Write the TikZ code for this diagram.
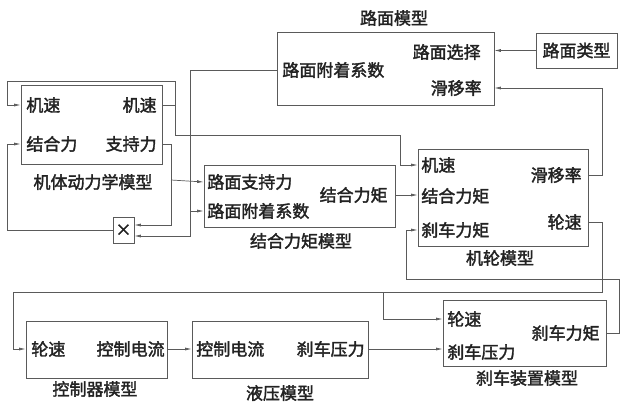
\documentclass[tikz,border=0pt]{standalone}
\usepackage{fontspec}
\setmainfont{Noto Sans CJK SC}[FakeBold=2]
\usepackage{xcolor}
\usepackage{tikz}
\usetikzlibrary{arrows.meta,positioning}
\definecolor{ln}{HTML}{5A5A5A}
\definecolor{tx}{HTML}{222222}

\begin{document}
\begin{tikzpicture}[x=1pt,y=-1pt,
                    line width=0.7pt,
                    >={Latex[length=6.5pt,width=3pt]},
                    blk/.style n args={2}{draw=ln,rectangle,
                    minimum width=#1pt,
                    minimum height=#2pt,
                    inner sep=0pt},
                    lbl/.style={text=tx,inner sep=0pt,
                    font=\fontsize{17}{20}\selectfont},
                    pl/.style={lbl,anchor=west},
                    pr/.style={lbl,anchor=east},
                    wire/.style={draw=ln,->}]
    \useasboundingbox (0,0) rectangle (621,402);

    \node[blk={141}{79}] (body) at (91.5,124.5) {};
    \node[lbl] (bodyt) at (93,182) {机体动力学模型};
    \node[pl] (bspdi) at (26,105) {机速};
    \node[pr] (bspdo) at (157,105) {机速};
    \node[pl] (bfrc) at (26,144) {结合力};
    \node[pr] (bsup) at (157,144) {支持力};
    \node[blk={21}{26},text=tx] (mul) at (123.5,230) {\fontsize{16}{16}\selectfont ×};

    \node[blk={191}{62}] (trq) at (299.5,196) {};
    \node[lbl] (trqt) at (301,241) {结合力矩模型};
    \node[pl] (tsup) at (207,182) {路面支持力};
    \node[pl] (tadh) at (207,211) {路面附着系数};
    \node[pr] (tout) at (388,195) {结合力矩};

    \node[blk={217}{73}] (road) at (385.5,68.5) {};
    \node[lbl] (roadt) at (394,18) {路面模型};
    \node[pl] (radh) at (282,70) {路面附着系数};
    \node[pr] (rsel) at (481,52) {路面选择};
    \node[pr] (rslip) at (482,88) {滑移率};
    \node[blk={81}{35},lbl] (rtype) at (576.5,50.5) {路面类型};

    \node[blk={170}{97}] (whl) at (503,197.5) {};
    \node[lbl] (whlt) at (500,258) {机轮模型};
    \node[pl] (wspd) at (421,165) {机速};
    \node[pl] (wtrq) at (421,196) {结合力矩};
    \node[pl] (wbrk) at (421,230) {刹车力矩};
    \node[pr] (wslip) at (582,175) {滑移率};
    \node[pr] (wvel) at (582,222) {轮速};

    \node[blk={141}{57}] (ctl) at (96.5,349.5) {};
    \node[lbl] (ctlt) at (95,389) {控制器模型};
    \node[pl] (cvel) at (31,349) {轮速};
    \node[pr] (ccur) at (165,349) {控制电流};

    \node[blk={176}{57}] (hyd) at (280,349.5) {};
    \node[lbl] (hydt) at (280,393) {液压模型};
    \node[pl] (hcur) at (196,349) {控制电流};
    \node[pr] (hprs) at (365,349) {刹车压力};

    \node[blk={163}{66}] (brk) at (524.5,333) {};
    \node[lbl] (brkt) at (527,378) {刹车装置模型};
    \node[pl] (kvel) at (447,319) {轮速};
    \node[pl] (kprs) at (447,352) {刹车压力};
    \node[pr] (ktrq) at (600,333) {刹车力矩};

    \coordinate (j1) at (175,105);
    \coordinate (j2) at (171,180);
    \coordinate (j3) at (190,211);
    \coordinate (j4) at (383,292);

    \draw[wire] (body.east |- bspdo) -- (j1) |- (7,81) |- (body.west |- bspdi);
    \draw[wire] (j1) |- (400,135) |- (whl.west |- wspd);
    \draw[wire] (body.east |- bsup) -| (171,225) -- ([yshift=5pt]mul.east);
    \draw[wire] (j2) -- (trq.west |- tsup);
    \draw[wire] (road.west |- radh) -| (190,236) -- ([yshift=-6pt]mul.east);
    \draw[wire] (j3) -- (trq.west |- tadh);
    \draw[wire] (mul.west) -| (7,144) -- (body.west |- bfrc);
    \draw[wire] (trq.east |- tout) -- (whl.west |- tout);
    \draw[wire] (rtype.west) -- (road.east |- rtype.west);
    \draw[wire] (whl.east |- wslip) -| (602,88) -- (road.east |- rslip);
    \draw[wire] (whl.east |- wvel) -| (602,292) -| (13,349) -- (ctl.west |- cvel);
    \draw[wire] (j4) |- (brk.west |- kvel);
    \draw[wire] (brk.east |- ktrq) -| (619,279) -| (406,230) -- (whl.west |- wbrk);
    \draw[wire] (ctl.east |- ccur) -- (hyd.west |- hcur);
    \draw[wire] (hyd.east |- hprs) -- (brk.west |- hprs);

\end{tikzpicture}
\end{document}
